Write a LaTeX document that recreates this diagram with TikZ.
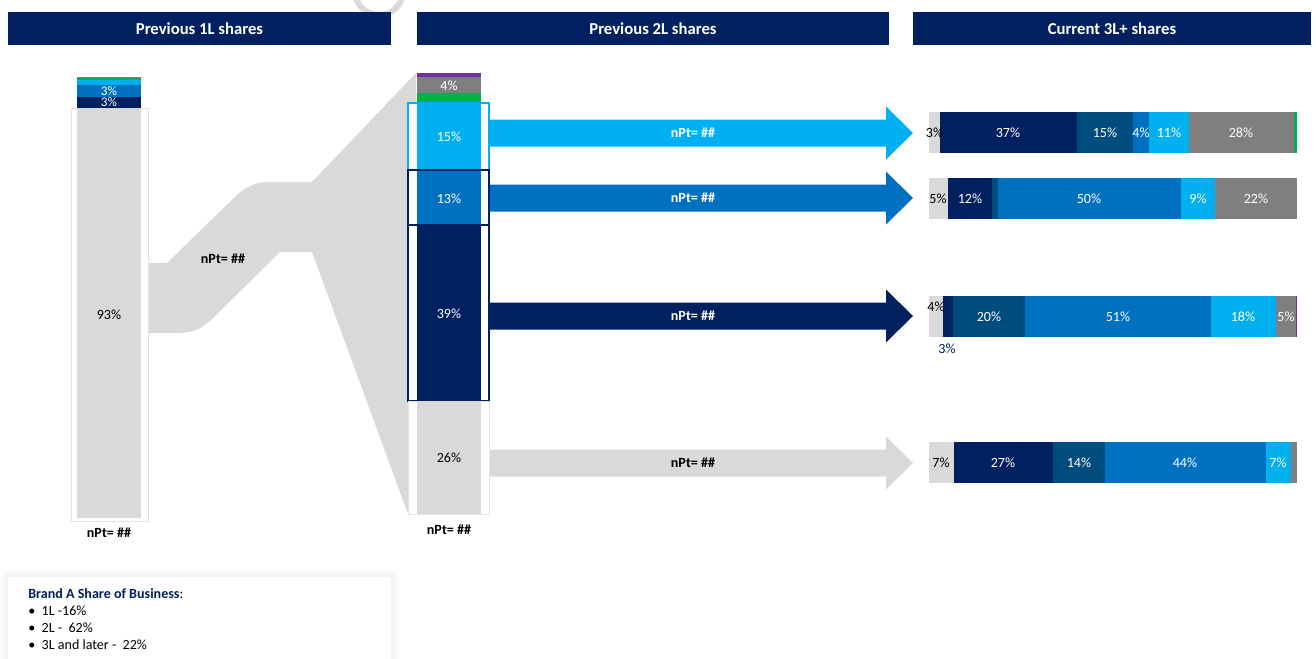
\documentclass[tikz,border=0pt]{standalone}
\usepackage{fontspec}
\setmainfont{Carlito}

\definecolor{navy}{HTML}{002060}
\definecolor{midblue}{HTML}{0070C0}
\definecolor{lightblue}{HTML}{00B0F0}
\definecolor{teal}{HTML}{004C7E}
\definecolor{grey}{HTML}{7F7F7F}
\definecolor{lgrey}{HTML}{D9D9D9}
\definecolor{green}{HTML}{00B050}
\definecolor{purple}{HTML}{7030A0}

\tikzset{
  hdr/.style={text=white, font=\fontsize{9.5}{11}\selectfont\bfseries},
  pct/.style={text=white, font=\fontsize{8}{9.6}\selectfont, inner sep=0pt},
  pctdark/.style={pct, text=black},
  npt/.style={font=\fontsize{8}{9.6}\selectfont\bfseries, inner sep=0pt},
  legtext/.style={font=\fontsize{8}{9.6}\selectfont, anchor=west, inner sep=0pt},
}

% block arrow: colour, y centre
\newcommand{\blockarrow}[2]{%
  \fill[#1] (490,#2-13.5) -- (886,#2-13.5) -- (886,#2-26.5) -- (913,#2)
    -- (886,#2+26.5) -- (886,#2+13.5) -- (490,#2+13.5) -- cycle;}

\begin{document}
\begin{tikzpicture}[x=0.02cm, y=-0.02cm]
\useasboundingbox (0,0) rectangle (1316,659);

\draw[lgrey, line width=0.12cm] (379,-9) circle (24);

% headers
\fill[navy] (8,12) rectangle (391,45);
\fill[navy] (417,12) rectangle (889,45);
\fill[navy] (913,12) rectangle (1311,45);
\node[hdr] (h1) at (199.5,28.5) {Previous 1L shares};
\node[hdr] (h2) at (653,28.5) {Previous 2L shares};
\node[hdr] (h3) at (1112,28.5) {Current 3L+ shares};

% flow from 1L to 2L
\fill[lgrey] (148,263) -- (167,263) -- (238,194) .. controls (250,184) and (258,182) .. (272,182)
  -- (312,182) -- (416,73) -- (416,514) -- (408,514) -- (312,252) -- (280,252)
  -- (212,319) .. controls (200,330) and (192,333) .. (177,333) -- (148,333) -- cycle;
\node[npt] (flow) at (223,259) {nPt= \#\#};

% 1L bar
\draw[lgrey!70, fill=white] (71,108) rectangle (148,521);
\fill[lgrey] (77,108) rectangle (141,518);
\fill[grey] (77,77) rectangle (141,78);
\fill[green] (77,78) rectangle (141,80);
\fill[lightblue] (77,80) rectangle (141,85);
\fill[midblue] (77,85) rectangle (141,97);
\fill[navy] (77,97) rectangle (141,108);
\node[pct, font=\fontsize{7.5}{9}\selectfont] (l1a) at (109,91) {3\%};
\node[pct, font=\fontsize{7.5}{9}\selectfont] (l1b) at (109,102.5) {3\%};
\node[pctdark] (l1c) at (109,315) {93\%};
\node[npt] (n1) at (109,533) {nPt= \#\#};

% 2L bar
\fill[purple] (417,73) rectangle (481,77);
\fill[grey] (417,77) rectangle (481,93);
\fill[green] (417,93) rectangle (481,103);
\draw[lightblue, line width=0.8pt, fill=white] (408,103) rectangle (489,170);
\fill[lightblue] (417,103) rectangle (481,170);
\draw[navy, line width=0.8pt, fill=white] (408,170) rectangle (489,225);
\fill[midblue] (417,170.5) rectangle (481,225);
\draw[navy, line width=0.8pt, fill=white] (408,225) rectangle (489,401);
\fill[navy] (417,225) rectangle (481,401);
\draw[lgrey!70, fill=white] (408,401) rectangle (489,514);
\fill[lgrey] (417,401) rectangle (481,514);
\node[pct] (m1) at (449,86) {4\%};
\node[pct] (m2) at (449,137) {15\%};
\node[pct] (m3) at (449,199) {13\%};
\node[pct] (m4) at (449,314) {39\%};
\node[pctdark] (m5) at (449,458) {26\%};
\node[npt] (n2) at (449,530) {nPt= \#\#};

% arrows
\blockarrow{lightblue}{133}
\blockarrow{midblue}{198}
\blockarrow{navy}{316}
\blockarrow{lgrey}{463}
\node[npt, text=white] (a1) at (693,133) {nPt= \#\#};
\node[npt, text=white] (a2) at (693,198) {nPt= \#\#};
\node[npt, text=white] (a3) at (693,316) {nPt= \#\#};
\node[npt] (a4) at (693,463) {nPt= \#\#};

% 3L+ bars
\foreach \xa/\xb/\c in {929/940/lgrey, 940/1077/navy, 1077/1133/teal, 1133/1149/midblue,
    1149/1189/lightblue, 1189/1294/grey, 1294/1297/green}
  \fill[\c] (\xa,112) rectangle (\xb,153);
\foreach \xa/\xb/\c in {929/948/lgrey, 948/992/navy, 992/998/teal, 998/1181/midblue,
    1181/1215/lightblue, 1215/1297/grey}
  \fill[\c] (\xa,178) rectangle (\xb,219);
\foreach \xa/\xb/\c in {929/943/lgrey, 943/953/navy, 953/1025/teal, 1025/1211/midblue,
    1211/1276/lightblue, 1276/1296/grey, 1296/1297/purple}
  \fill[\c] (\xa,296) rectangle (\xb,337);
\foreach \xa/\xb/\c in {929/954/lgrey, 954/1053/navy, 1053/1105/teal, 1105/1266/midblue,
    1266/1291/lightblue, 1291/1297/grey}
  \fill[\c] (\xa,442) rectangle (\xb,483);

\node[pctdark] (r1a) at (934.5,133) {3\%};
\node[pct] (r1b) at (1008,133) {37\%};
\node[pct] (r1c) at (1105,133) {15\%};
\node[pct] (r1d) at (1141,133) {4\%};
\node[pct] (r1e) at (1169,133) {11\%};
\node[pct] (r1f) at (1241,133) {28\%};

\node[pctdark] (r2a) at (938,199) {5\%};
\node[pct] (r2b) at (970,199) {12\%};
\node[pct] (r2c) at (1089,199) {50\%};
\node[pct] (r2d) at (1198,199) {9\%};
\node[pct] (r2e) at (1256,199) {22\%};

\node[pctdark] (r3a) at (936,307) {4\%};
\node[pct] (r3b) at (989,317) {20\%};
\node[pct] (r3c) at (1118,317) {51\%};
\node[pct] (r3d) at (1243,317) {18\%};
\node[pct] (r3e) at (1286,317) {5\%};
\node[pct, text=navy] (r3f) at (947,349) {3\%};

\node[pctdark] (r4a) at (941,463) {7\%};
\node[pct] (r4b) at (1003,463) {27\%};
\node[pct] (r4c) at (1079,463) {14\%};
\node[pct] (r4d) at (1185,463) {44\%};
\node[pct] (r4e) at (1278,463) {7\%};

% legend box
\foreach \d in {8,6,4,2}
  \fill[black, opacity=0.012] (8-\d,577-\d) rectangle (391+\d,665);
\fill[white] (8,577) rectangle (391,665);
\node[legtext] (leg0) at (28,594) {\textcolor{navy}{\bfseries Brand A Share of Business}:};
\node[legtext] (leg1) at (28,611) {•~ 1L -16\%};
\node[legtext] (leg2) at (28,628) {•~ 2L -~ 62\%};
\node[legtext] (leg3) at (28,645) {•~ 3L and later -~ 22\%};

\end{tikzpicture}
\end{document}
